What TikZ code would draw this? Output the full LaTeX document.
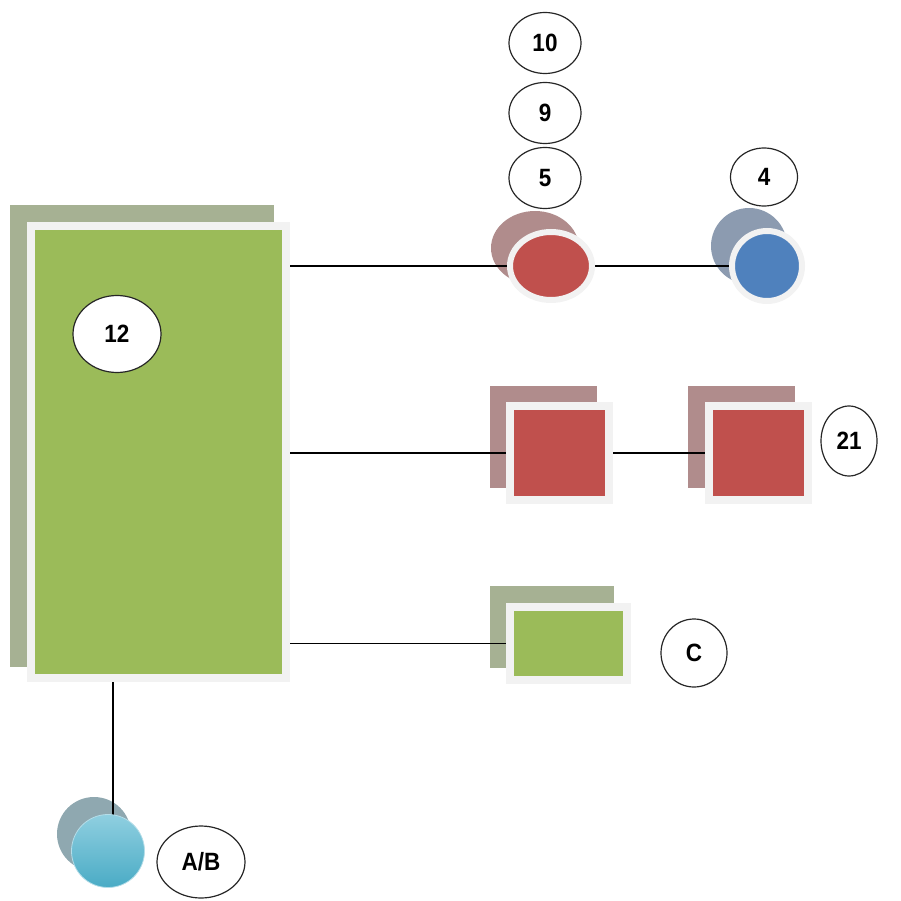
\documentclass[tikz,border=0pt]{standalone}
\usepackage{fontspec}
\setmainfont{Liberation Sans}
\newfontfamily\lblfont{Liberation Sans}[FakeStretch=0.9]
\usetikzlibrary{shapes.geometric}
\pgfdeclarelayer{shadowlayer}
\pgfdeclarelayer{linelayer}
\pgfsetlayers{shadowlayer,linelayer,main}
\definecolor{grn}{HTML}{9BBB59}
\definecolor{grnsh}{HTML}{A6B193}
\definecolor{rd}{HTML}{C0504D}
\definecolor{rdsh}{HTML}{B08C8C}
\definecolor{bl}{HTML}{4F81BD}
\definecolor{blsh}{HTML}{8C9BB0}
\definecolor{cysh}{HTML}{8FA8B0}
\definecolor{cytop}{HTML}{8FCFE0}
\definecolor{cybot}{HTML}{4AABC5}
\definecolor{cyedge}{HTML}{B5DDE8}
\definecolor{frm}{HTML}{F2F2F2}
\tikzset{
  x=1pt, y=-1pt,
  shbox/.style={rectangle, inner sep=0pt, draw=none},
  frbox/.style={rectangle, inner sep=0pt, draw=frm, line width=8pt},
  shell/.style={ellipse, inner sep=0pt, draw=none},
  frell/.style={ellipse, inner sep=0pt, draw=frm, line width=6pt},
  lbl/.style={ellipse, inner sep=0pt, draw=black!85, line width=1.2pt, fill=white,
    font=\lblfont\fontsize{25}{25}\selectfont\bfseries},
  conn/.style={draw=black, line width=1.2pt}
}
\begin{document}
\begin{tikzpicture}
\useasboundingbox (0,0) rectangle (901,901);
\begin{pgfonlayer}{shadowlayer}
\node[shbox, fill=grnsh, minimum width=264pt, minimum height=461pt] (mainsh) at (142,436) {};
\node[shell, fill=rdsh, minimum width=88pt, minimum height=74pt] (e5sh) at (535,248) {};
\node[shell, fill=blsh, minimum width=76pt, minimum height=76pt] (blsh) at (749,246) {};
\node[shbox, fill=rdsh, minimum width=107pt, minimum height=102pt] (sqash) at (543.5,437) {};
\node[shbox, fill=rdsh, minimum width=107pt, minimum height=102pt] (sqbsh) at (741.5,437) {};
\node[shbox, fill=grnsh, minimum width=124pt, minimum height=82pt] (gsh) at (552,627) {};
\node[shell, fill=cysh, minimum width=74pt, minimum height=74pt] (cysh) at (94,834) {};
\end{pgfonlayer}

\node[frbox, fill=grn, minimum width=255pt, minimum height=452pt] (main) at (158.5,452) {};
\node[frell, fill=rd, minimum width=82pt, minimum height=68pt] (e5) at (551,266) {};
\node[frell, fill=bl, minimum width=70pt, minimum height=70pt] (blc) at (767,266) {};
\node[frbox, fill=rd, minimum width=99pt, minimum height=94pt] (sqa) at (559.5,453) {};
\node[frbox, fill=rd, minimum width=99pt, minimum height=94pt] (sqb) at (758.5,453) {};
\node[frbox, fill=grn, minimum width=117pt, minimum height=73pt] (gsm) at (568.5,643.5) {};
\node[circle, inner sep=0pt, minimum size=73pt, draw=cyedge, line width=0.8pt,
  top color=cytop, bottom color=cybot] (cy) at (108,851) {};

\begin{pgfonlayer}{linelayer}
\draw[conn] (main.east |- e5.west) -- (e5.west);
\draw[conn] (e5.east) -- (blc.west);
\draw[conn] (main.east |- sqa.west) -- (sqa.west);
\draw[conn] (sqa.east) -- (sqb.west);
\draw[conn] (main.east |- gsm.west) -- (gsm.west);
\draw[conn] ([xshift=5pt]cy.north |- main.south) -- ([xshift=5pt]cy.center);
\end{pgfonlayer}

\node[lbl, minimum width=72pt, minimum height=61pt] (l10) at (545,43) {10};
\node[lbl, minimum width=72pt, minimum height=61pt] (l9) at (545,113) {9};
\node[lbl, minimum width=72pt, minimum height=61pt] (l5) at (545,178) {5};
\node[lbl, minimum width=67pt, minimum height=58pt] (l4) at (764,177) {4};
\node[lbl, minimum width=88pt, minimum height=77pt] (l12) at (117,334) {12};
\node[lbl, minimum width=56pt, minimum height=70pt] (l21) at (849,441) {21};
\node[lbl, minimum width=66pt, minimum height=68pt] (lc) at (694,653) {C};
\node[lbl, minimum width=88pt, minimum height=72pt] (lab) at (201,862) {A/B};
\end{tikzpicture}
\end{document}
